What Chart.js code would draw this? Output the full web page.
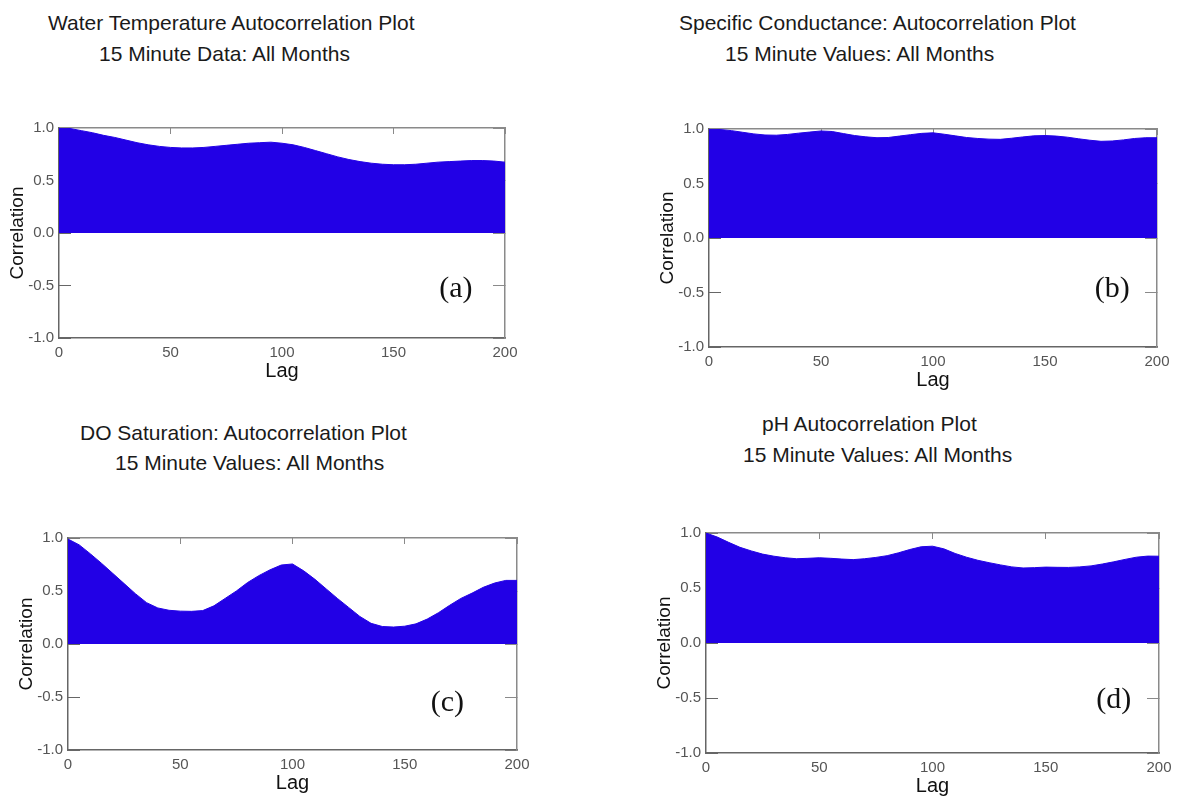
<!DOCTYPE html>
<html>
<head>
<meta charset="utf-8">
<script src="https://cdn.jsdelivr.net/npm/chart.js@4.4.1/dist/chart.umd.min.js"></script>
<style>
    body { margin: 0; background: #fff; width: 1200px; height: 800px; position: relative; overflow: hidden;
           font-family: "Liberation Sans", Arial, sans-serif; }
    canvas { position: absolute; }
    .ttl { position: absolute; font-size: 21px; line-height: 24px; color: #1a1a1a; white-space: nowrap; }
</style>
</head>
<body>
<div class="ttl" style="left:48px;top:11px">Water Temperature Autocorrelation Plot</div>
<div class="ttl" style="left:99px;top:42px">15 Minute Data: All Months</div>
<div class="ttl" style="left:679px;top:11px">Specific Conductance: Autocorrelation Plot</div>
<div class="ttl" style="left:725px;top:42px">15 Minute Values: All Months</div>
<div class="ttl" style="left:80px;top:421px">DO Saturation: Autocorrelation Plot</div>
<div class="ttl" style="left:115px;top:451px">15 Minute Values: All Months</div>
<div class="ttl" style="left:762px;top:412px">pH Autocorrelation Plot</div>
<div class="ttl" style="left:743px;top:443px">15 Minute Values: All Months</div>

<canvas id="chartA"></canvas>
<canvas id="chartB"></canvas>
<canvas id="chartC"></canvas>
<canvas id="chartD"></canvas>

<script>
// ================= DATA =================
const lags = [0, 5, 10, 15, 20, 25, 30, 35, 40, 45, 50, 55, 60, 65, 70, 75, 80, 85, 90, 95,
              100, 105, 110, 115, 120, 125, 130, 135, 140, 145, 150, 155, 160, 165, 170, 175, 180, 185, 190, 195, 200];

// (a) water temperature
const waterTemp = [1.00, 0.995, 0.975, 0.955, 0.93, 0.91, 0.885, 0.86, 0.84, 0.825, 0.815, 0.81, 0.81, 0.815, 0.825, 0.835, 0.845, 0.855, 0.86, 0.865,
                   0.855, 0.84, 0.815, 0.785, 0.755, 0.725, 0.70, 0.68, 0.665, 0.655, 0.65, 0.65, 0.655, 0.665, 0.675, 0.68, 0.685, 0.69, 0.69, 0.685, 0.675];

// (b) specific conductance
const specCond = [1.00, 0.995, 0.985, 0.97, 0.955, 0.945, 0.943, 0.95, 0.962, 0.972, 0.982, 0.977, 0.958, 0.94, 0.928, 0.92, 0.922, 0.935, 0.948, 0.96,
                  0.965, 0.952, 0.937, 0.922, 0.913, 0.907, 0.905, 0.915, 0.927, 0.937, 0.94, 0.935, 0.925, 0.91, 0.897, 0.887, 0.89, 0.90, 0.913, 0.92, 0.92];

// (c) DO saturation
const doSat = [0.99, 0.935, 0.85, 0.76, 0.665, 0.57, 0.475, 0.39, 0.34, 0.318, 0.31, 0.308, 0.315, 0.36, 0.43, 0.50, 0.58, 0.645, 0.70, 0.745,
               0.755, 0.69, 0.61, 0.52, 0.43, 0.345, 0.26, 0.195, 0.165, 0.16, 0.168, 0.19, 0.235, 0.295, 0.365, 0.43, 0.48, 0.535, 0.575, 0.60, 0.60];

// (d) pH
const phVals = [1.00, 0.963, 0.915, 0.87, 0.837, 0.808, 0.789, 0.775, 0.766, 0.77, 0.775, 0.77, 0.763, 0.758, 0.766, 0.778, 0.794, 0.82, 0.85, 0.875,
                0.88, 0.856, 0.814, 0.78, 0.752, 0.73, 0.71, 0.692, 0.682, 0.685, 0.69, 0.688, 0.687, 0.692, 0.701, 0.718, 0.738, 0.76, 0.78, 0.79, 0.789];

const panelLetters = ["(a)", "(b)", "(c)", "(d)"];
const letterSpots = [[178, -0.53], [180, -0.47], [169, -0.56], [180, -0.52]];

// ================= LAYOUT =================
// plot rectangle of each panel, in page pixels
const panels = [
    { id: "chartA", values: waterTemp, L: 59,  R: 505,  T: 112, B: 338 },
    { id: "chartB", values: specCond,  L: 709, R: 1157, T: 113, B: 347 },
    { id: "chartC", values: doSat,     L: 68,  R: 517,  T: 522, B: 750 },
    { id: "chartD", values: phVals,    L: 706, R: 1159, T: 517, B: 753 }
];

const PAD_L = 60, PAD_R = 25, PAD_T = 10, PAD_B = 50;
const FRAME = "#666";
const FRAME_LIGHT = "#8a8a8a";
const BLUE = "#2200e6";

const tickFont = { family: "'Liberation Sans', Arial, sans-serif", size: 15 };
const titleFont = { family: "'Liberation Sans', Arial, sans-serif", size: 20 };

// draws the (a)..(d) tag inside the plot
const letterPlugin = {
    id: "panelLetter",
    afterDraw(chart, args, opts) {
        const { ctx, scales } = chart;
        ctx.save();
        ctx.font = "30px 'Liberation Serif', 'Times New Roman', serif";
        ctx.fillStyle = "#111";
        ctx.textAlign = "center";
        ctx.textBaseline = "middle";
        ctx.fillText(opts.text, scales.x.getPixelForValue(opts.at[0]), scales.y.getPixelForValue(opts.at[1]));
        ctx.restore();
    }
};

panels.forEach((p, i) => {
    const cv = document.getElementById(p.id);
    const w = (p.R - p.L) + PAD_L + PAD_R;
    const h = (p.B - p.T) + PAD_T + PAD_B;
    cv.width = w;
    cv.height = h;
    cv.style.left = (p.L - PAD_L) + "px";
    cv.style.top = (p.T - PAD_T) + "px";

    new Chart(cv, {
        type: "line",
        data: {
            datasets: [{
                data: lags.map((lag, k) => ({ x: lag, y: p.values[k] })),
                borderColor: BLUE,
                backgroundColor: BLUE,
                borderWidth: 1,
                pointRadius: 0,
                fill: "origin",
                tension: 0
            }]
        },
        options: {
            responsive: false,
            animation: false,
            layout: { padding: { left: 0, right: PAD_R, top: PAD_T, bottom: 0 } },
            plugins: {
                legend: { display: false },
                tooltip: { enabled: false },
                panelLetter: { text: panelLetters[i], at: letterSpots[i] }
            },
            scales: {
                x: {
                    type: "linear", position: "bottom", min: 0, max: 200,
                    ticks: { stepSize: 50, color: "#555", font: tickFont, padding: 6, maxRotation: 0 },
                    grid: { drawOnChartArea: false, drawTicks: false, color: FRAME },
                    border: { display: true, color: FRAME, width: 1.5 },
                    title: { display: true, text: "Lag", color: "#111", font: titleFont, padding: { top: 0, bottom: 5 } },
                    afterFit: s => { s.height = PAD_B; }
                },
                xTop: {
                    type: "linear", position: "top", min: 0, max: 200,
                    ticks: { stepSize: 50, display: false },
                    grid: { drawOnChartArea: false, drawTicks: true, tickLength: -6, color: FRAME_LIGHT },
                    border: { display: true, color: FRAME_LIGHT, width: 1.5 },
                    afterFit: s => { s.height = 0; }
                },
                y: {
                    type: "linear", position: "left", min: -1, max: 1,
                    ticks: { stepSize: 0.5, color: "#555", font: tickFont, padding: 17, callback: v => v.toFixed(1) },
                    grid: { drawOnChartArea: false, drawTicks: true, tickLength: -12, color: FRAME },
                    border: { display: true, color: FRAME, width: 1.5 },
                    title: { display: true, text: "Correlation", color: "#111", font: { ...titleFont, size: 19 }, padding: { top: 7, bottom: 0 } },
                    afterFit: s => { s.width = PAD_L; }
                },
                yRight: {
                    type: "linear", position: "right", min: -1, max: 1,
                    ticks: { stepSize: 0.5, display: false },
                    grid: { drawOnChartArea: false, drawTicks: true, tickLength: -12, color: FRAME_LIGHT },
                    border: { display: true, color: FRAME_LIGHT, width: 1.5 },
                    afterFit: s => { s.width = 0; }
                }
            }
        },
        plugins: [letterPlugin]
    });
});
</script>
</body>
</html>
